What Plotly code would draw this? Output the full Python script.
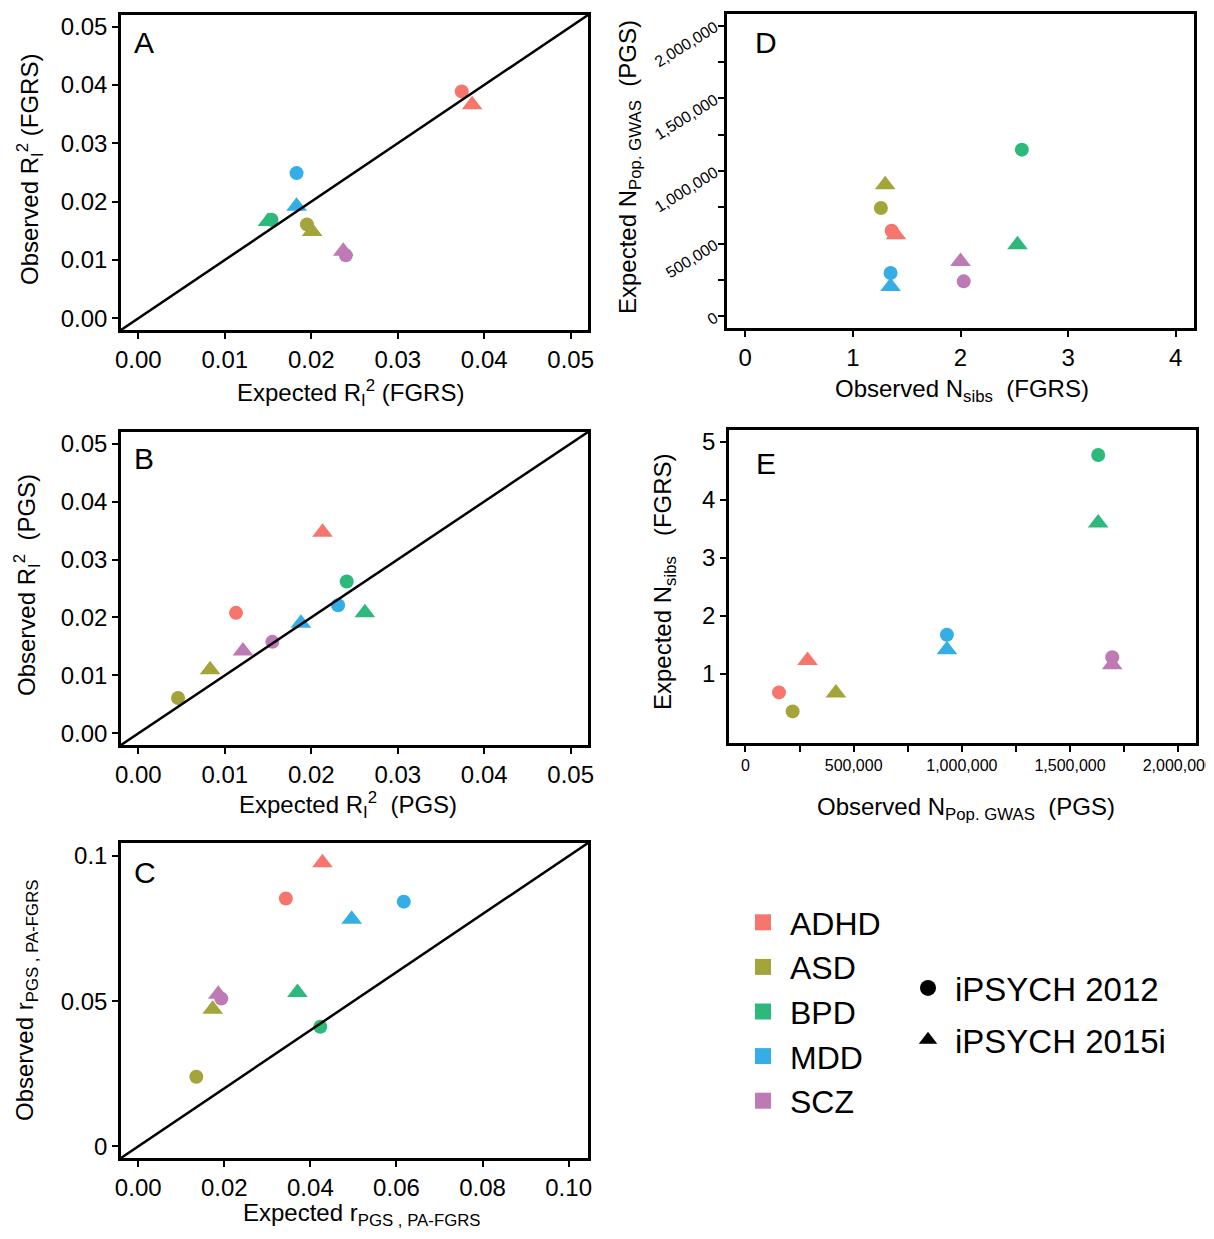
import plotly.graph_objects as go

W, H = 1214, 1239
OFF = 8  # default body margin of the page
FW, FH = W - 2 * OFF, H - 2 * OFF

diseases = ["ADHD", "ASD", "BPD", "MDD", "SCZ"]
colors = ["#F6766D", "#A3A53A", "#2DB97C", "#35AEE5", "#BE7AB5"]
cohorts = ["iPSYCH 2012", "iPSYCH 2015i"]

# Panel A: expected vs observed R2 (FGRS); order follows `diseases`
a_exp_2012 = [0.0374, 0.0195, 0.0154, 0.0183, 0.0240]
a_obs_2012 = [0.0389, 0.0161, 0.0169, 0.0249, 0.0108]
a_exp_2015 = [0.0386, 0.0201, 0.0150, 0.0183, 0.0237]
a_obs_2015 = [0.0366, 0.0149, 0.0166, 0.0192, 0.0115]

# Panel B: expected vs observed R2 (PGS)
b_exp_2012 = [0.0113, 0.0046, 0.0241, 0.0231, 0.0155]
b_obs_2012 = [0.0208, 0.0061, 0.0262, 0.0221, 0.0158]
b_exp_2015 = [0.0213, 0.0083, 0.0262, 0.0188, 0.0121]
b_obs_2015 = [0.0347, 0.0110, 0.0208, 0.0190, 0.0142]

# Panel C: expected vs observed r(PGS, PA-FGRS)
c_exp_2012 = [0.0343, 0.0135, 0.0423, 0.0617, 0.0193]
c_obs_2012 = [0.0854, 0.0240, 0.0412, 0.0843, 0.0509]
c_exp_2015 = [0.0428, 0.0173, 0.0370, 0.0496, 0.0186]
c_obs_2015 = [0.0977, 0.0472, 0.0530, 0.0782, 0.0524]

# Panel D: observed N sibs (FGRS) vs expected N Pop. GWAS (PGS)
d_nsibs_2012 = [1.36, 1.26, 2.57, 1.35, 2.03]
d_npop_2012 = [589000, 745000, 1147000, 298000, 241000]
d_nsibs_2015 = [1.40, 1.30, 2.53, 1.35, 2.00]
d_npop_2015 = [562000, 906000, 493000, 206000, 378000]

# Panel E: observed N Pop. GWAS (PGS) vs expected N sibs (FGRS)
e_npop_2012 = [155000, 218000, 1630000, 931000, 1695000]
e_nsibs_2012 = [0.685, 0.358, 4.77, 1.676, 1.29]
e_npop_2015 = [287000, 418000, 1630000, 931000, 1695000]
e_nsibs_2015 = [1.235, 0.674, 3.60, 1.418, 1.16]

r2_ticks = [0.0, 0.01, 0.02, 0.03, 0.04, 0.05]
r_x_ticks = [0.0, 0.02, 0.04, 0.06, 0.08, 0.10]
r_y_ticks = [0.0, 0.05, 0.1]
r_y_labels = ["0", "0.05", "0.1"]
d_x_ticks = [0, 1, 2, 3, 4]
big_ticks = [0, 250000, 500000, 750000, 1000000, 1250000, 1500000, 1750000, 2000000]
big_labels = ["0", "", "500,000", "", "1,000,000", "", "1,500,000", "", "2,000,000"]
e_y_ticks = [1, 2, 3, 4, 5]

FONT = "Liberation Sans, Arial, Helvetica, sans-serif"

def px2x(p):
    return (p - OFF) / FW

def px2y(p):
    return 1 - (p - OFF) / FH

fig = go.Figure()

panels = [
    ("x1", "y1", a_exp_2012, a_obs_2012, a_exp_2015, a_obs_2015),
    ("x2", "y2", b_exp_2012, b_obs_2012, b_exp_2015, b_obs_2015),
    ("x3", "y3", c_exp_2012, c_obs_2012, c_exp_2015, c_obs_2015),
    ("x4", "y4", d_nsibs_2012, d_npop_2012, d_nsibs_2015, d_npop_2015),
    ("x5", "y5", e_npop_2012, e_nsibs_2012, e_npop_2015, e_nsibs_2015),
]

for xa, ya, x12, y12, x15, y15 in panels:
    for i, d in enumerate(diseases):
        fig.add_trace(go.Scatter(
            x=[x12[i]], y=[y12[i]], mode="markers",
            marker=dict(symbol="circle", size=14, color=colors[i], line=dict(width=0)),
            xaxis=xa, yaxis=ya, showlegend=False, name=d + " " + cohorts[0]))
        fig.add_trace(go.Scatter(
            x=[x15[i]], y=[y15[i]], mode="markers",
            marker=dict(symbol="triangle-up", size=18, color=colors[i], line=dict(width=0)),
            xaxis=xa, yaxis=ya, showlegend=False, name=d + " " + cohorts[1]))

# identity lines for A, B, C
r2_range = [-0.002, 0.052]
r_range = [-0.004, 0.1045]
for xa, ya, rng in [("x1", "y1", r2_range), ("x2", "y2", r2_range), ("x3", "y3", r_range)]:
    fig.add_trace(go.Scatter(x=rng, y=rng, mode="lines", line=dict(color="black", width=2.5),
                             xaxis=xa, yaxis=ya, showlegend=False, hoverinfo="skip"))

# legend entries
for i, d in enumerate(diseases):
    fig.add_trace(go.Scatter(x=[None], y=[None], mode="markers", name=d,
                             marker=dict(symbol="square", size=19, color=colors[i]),
                             legend="legend", xaxis="x1", yaxis="y1"))
fig.add_trace(go.Scatter(x=[None], y=[None], mode="markers", name=cohorts[0],
                         marker=dict(symbol="circle", size=19, color="black"),
                         legend="legend2", legendgroup="g1", xaxis="x1", yaxis="y1"))
fig.add_trace(go.Scatter(x=[None], y=[None], mode="markers", name=cohorts[1],
                         marker=dict(symbol="triangle-up", size=21, color="black"),
                         legend="legend2", legendgroup="g2", xaxis="x1", yaxis="y1"))

def ax(domain, rng, tickvals, ticktext=None, fontsize=24, tickangle=0, anchor=None):
    d = dict(domain=domain, range=rng, tickvals=tickvals, showline=True, mirror=True,
             linecolor="black", linewidth=2.5, ticks="outside", ticklen=6, tickwidth=2,
             tickcolor="black", showgrid=False, zeroline=False, automargin=False,
             ticklabeloverflow="allow",
             tickfont=dict(size=fontsize, color="black", family=FONT), tickangle=tickangle,
             anchor=anchor)
    if ticktext is not None:
        d["ticktext"] = ticktext
    return d

r2_text = ["%.2f" % v for v in r2_ticks]
rx_text = ["%.2f" % v for v in r_x_ticks]

dom = {
    "A": ([px2x(121), px2x(588)], [px2y(330), px2y(15)]),
    "B": ([px2x(121), px2x(588)], [px2y(745), px2y(432)]),
    "C": ([px2x(121), px2x(588)], [px2y(1158), px2y(843)]),
    "D": ([px2x(727), px2x(1194)], [px2y(328), px2y(14)]),
    "E": ([px2x(729), px2x(1196)], [px2y(743), px2y(430)]),
}

fig.update_layout(
    xaxis=ax(dom["A"][0], r2_range, r2_ticks, r2_text, anchor="y"),
    yaxis=ax(dom["A"][1], r2_range, r2_ticks, r2_text, anchor="x"),
    xaxis2=ax(dom["B"][0], r2_range, r2_ticks, r2_text, anchor="y2"),
    yaxis2=ax(dom["B"][1], r2_range, r2_ticks, r2_text, anchor="x2"),
    xaxis3=ax(dom["C"][0], r_range, r_x_ticks, rx_text, anchor="y3"),
    yaxis3=ax(dom["C"][1], r_range, r_y_ticks, r_y_labels, anchor="x3"),
    xaxis4=ax(dom["D"][0], [-0.17, 4.17], d_x_ticks, [str(v) for v in d_x_ticks], anchor="y4"),
    yaxis4=ax(dom["D"][1], [-80000, 2080000], big_ticks, big_labels, fontsize=16, tickangle=-32, anchor="x4"),
    xaxis5=ax(dom["E"][0], [-76000, 2082000], big_ticks, big_labels, fontsize=16, anchor="y5"),
    yaxis5=ax(dom["E"][1], [-0.186, 5.2], e_y_ticks, [str(v) for v in e_y_ticks], anchor="x5"),
)

annotations = []
def ann(text, x, y, size=24, angle=0, xanchor="center", yanchor="middle"):
    annotations.append(dict(text=text, x=px2x(x), y=px2y(y), xref="paper", yref="paper",
                            showarrow=False, textangle=angle, xanchor=xanchor, yanchor=yanchor,
                            font=dict(size=size, color="black", family=FONT)))

# panel letters
ann("A", 144, 42, size=30)
ann("B", 144, 458, size=30)
ann("C", 145, 872, size=30)
ann("D", 766, 42, size=30)
ann("E", 766, 463, size=30)

# axis titles
ann("Expected R<sub>I</sub><sup>2</sup> (FGRS)", 350, 393)
ann("Observed R<sub>I</sub><sup>2</sup> (FGRS)", 30, 170, angle=-90)
ann("Expected R<sub>I</sub><sup>2</sup>  (PGS)", 348, 805)
ann("Observed R<sub>I</sub><sup>2</sup>  (PGS)", 27, 585, angle=-90)
ann("Expected r<sub>PGS , PA-FGRS</sub>", 362, 1214)
ann("Observed r<sub>PGS , PA-FGRS</sub>", 26, 1000, angle=-90)
ann("Observed N<sub>sibs</sub>  (FGRS)", 962, 390)
ann("Expected N<sub>Pop. GWAS</sub>  (PGS)", 630, 167, angle=-90)
ann("Observed N<sub>Pop. GWAS</sub>  (PGS)", 966, 808)
ann("Expected N<sub>sibs</sub>   (FGRS)", 664, 582, angle=-90)

fig.update_layout(
    width=FW, height=FH,
    margin=dict(l=0, r=0, t=0, b=0),
    paper_bgcolor="white", plot_bgcolor="white",
    font=dict(family=FONT, color="black"),
    annotations=annotations,
    legend=dict(x=px2x(736), y=px2y(895), xanchor="left", yanchor="top",
                font=dict(size=32, color="black", family=FONT), itemwidth=44,
                itemsizing="trace", tracegroupgap=0, bgcolor="rgba(0,0,0,0)"),
    legend2=dict(x=px2x(901), y=px2y(960), xanchor="left", yanchor="top",
                 font=dict(size=33, color="black", family=FONT), itemwidth=44,
                 itemsizing="trace", tracegroupgap=6, traceorder="grouped",
                 bgcolor="rgba(0,0,0,0)"),
)

fig.write_html("out.html")
